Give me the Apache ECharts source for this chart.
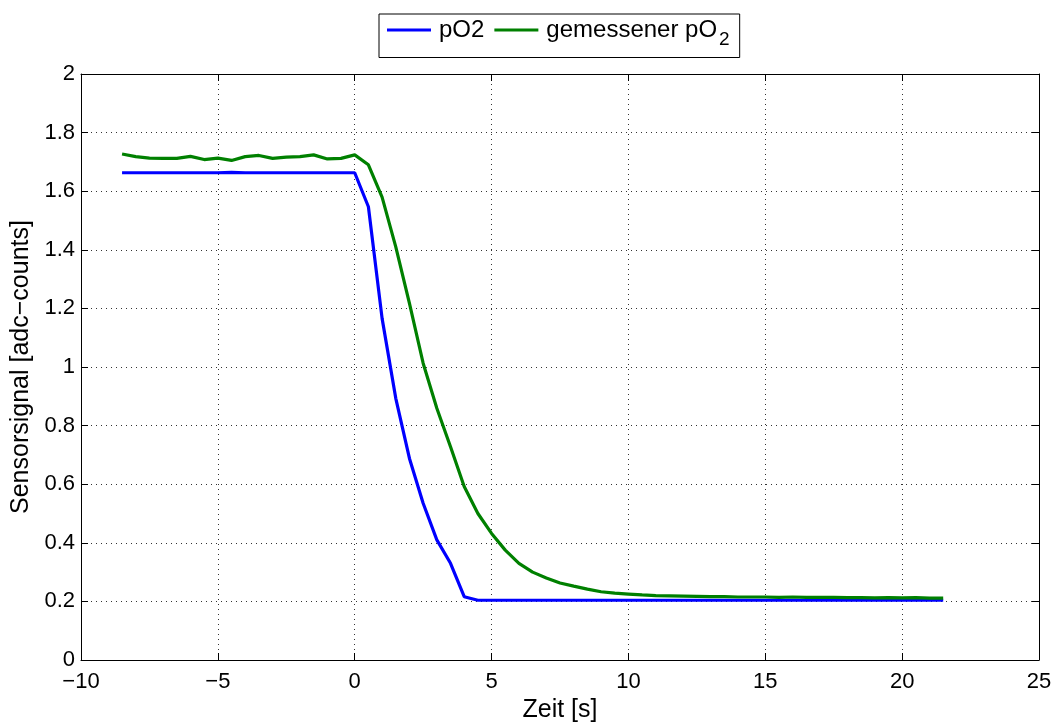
<!DOCTYPE html>
<html>
<head>
<meta charset="utf-8">
<script src="https://cdn.jsdelivr.net/npm/echarts@6/dist/echarts.min.js"></script>
<style>
  html, body { margin: 0; padding: 0; background: #fff; }
  #chart { width: 1057px; height: 722px; }
</style>
</head>
<body>
<div id="chart"></div>
<script>
// time axis in seconds
const time = [
  -8.5, -8, -7.5, -7, -6.5, -6, -5.5, -5, -4.5, -4, -3.5, -3, -2.5, -2, -1.5, -1, -0.5, 0,
  0.5, 1, 1.5, 2, 2.5, 3, 3.5, 4, 4.5, 5, 5.5, 6, 6.5, 7, 7.5, 8, 8.5, 9, 9.5, 10,
  10.5, 11, 11.5, 12, 12.5, 13, 13.5, 14, 14.5, 15, 15.5, 16, 16.5, 17, 17.5, 18,
  18.5, 19, 19.5, 20, 20.5, 21, 21.5
]

const pO2 = [
  1.663, 1.663, 1.663, 1.663, 1.663, 1.663, 1.663, 1.663, 1.664, 1.663, 1.663, 1.663,
  1.663, 1.663, 1.663, 1.663, 1.663, 1.663,
  1.547, 1.166, 0.893, 0.688, 0.535, 0.41, 0.33, 0.216, 0.204,
  0.204, 0.204, 0.204, 0.204, 0.204, 0.204, 0.204, 0.204, 0.204, 0.204, 0.204,
  0.204, 0.204, 0.204, 0.204, 0.204, 0.204, 0.204, 0.204, 0.204, 0.204, 0.204,
  0.204, 0.204, 0.204, 0.204, 0.204, 0.204, 0.204, 0.204, 0.204, 0.204, 0.204, 0.204
]

const measured = [
  1.727, 1.718, 1.713, 1.712, 1.712, 1.719, 1.708, 1.713, 1.705, 1.718, 1.722, 1.712,
  1.716, 1.718, 1.724, 1.710, 1.712, 1.724,
  1.69, 1.58, 1.41, 1.217, 1.013, 0.859, 0.728, 0.592, 0.50, 0.432,
  0.375, 0.33, 0.30, 0.28, 0.263, 0.252, 0.242, 0.233, 0.228, 0.225,
  0.222, 0.220, 0.219, 0.218, 0.217, 0.216, 0.216, 0.215, 0.215, 0.215,
  0.214, 0.215, 0.214, 0.214, 0.214, 0.213, 0.213, 0.212, 0.213, 0.212, 0.213, 0.211, 0.211
]

const seriesNames = ['pO2', 'gemessener pO2']

const font = '"Liberation Sans", Arial, Helvetica, sans-serif'

const chart = echarts.init(document.getElementById('chart'))

const gridLine = {
  show: true,
  lineStyle: { color: '#333', type: [1, 4], width: 1 }
}

// top and right axes only close the box (MATLAB style)
const boxAxis = {
  type: 'value',
  axisLine: { show: true, onZero: false, lineStyle: { color: '#000', width: 1 } },
  axisTick: { show: true, inside: true, length: 7, lineStyle: { color: '#000' } },
  axisLabel: { show: false },
  splitLine: { show: false }
}

const option = {
  animation: false,
  textStyle: { fontFamily: font },
  legend: {
    top: 14,
    left: 379,
    data: seriesNames,
    backgroundColor: '#fff',
    borderColor: '#000',
    borderWidth: 1,
    padding: [4, 10, 8, 8],
    itemGap: 10,
    itemWidth: 44,
    itemHeight: 3,
    icon: 'rect',
    formatter: (name) => name === 'gemessener pO2' ? '{a|gemessener pO}{s|2}' : '{a|' + name + '}',
    textStyle: {
      color: '#000',
      fontFamily: font,
      rich: {
        a: { fontSize: 24, fontFamily: font, color: '#000', padding: [0, 0, 0, 3] },
        s: { fontSize: 19, fontFamily: font, color: '#000', padding: [20, 0, 0, 2] }
      }
    }
  },
  grid: { left: 81, right: 18, top: 74, bottom: 62, outerBoundsMode: 'none' },
  xAxis: [
    {
      type: 'value',
      min: -10,
      max: 25,
      interval: 5,
      name: 'Zeit [s]',
      nameLocation: 'middle',
      nameGap: 34,
      nameTextStyle: { fontSize: 25, color: '#000', fontFamily: font },
      axisLine: { show: true, onZero: false, lineStyle: { color: '#000', width: 1 } },
      axisTick: { show: true, inside: true, length: 7, lineStyle: { color: '#000' } },
      axisLabel: {
        fontSize: 22,
        color: '#000',
        margin: 11,
        fontFamily: font,
        formatter: (v) => String(v).replace('-', '\u2212')
      },
      splitLine: gridLine
    },
    Object.assign({}, boxAxis, { position: 'top', min: -10, max: 25, interval: 5 })
  ],
  yAxis: [
    {
      type: 'value',
      min: 0,
      max: 2,
      interval: 0.2,
      name: 'Sensorsignal [adc\u2212counts]',
      nameLocation: 'middle',
      nameGap: 47,
      nameTextStyle: { fontSize: 25, color: '#000', fontFamily: font },
      axisLine: { show: true, onZero: false, lineStyle: { color: '#000', width: 1 } },
      axisTick: { show: true, inside: true, length: 7, lineStyle: { color: '#000' } },
      axisLabel: { fontSize: 22, color: '#000', margin: 6, fontFamily: font },
      splitLine: gridLine
    },
    Object.assign({}, boxAxis, { position: 'right', min: 0, max: 2, interval: 0.2 })
  ],
  series: [
    {
      name: seriesNames[0],
      type: 'line',
      showSymbol: false,
      color: '#0000ff',
      lineStyle: { width: 3.2, color: '#0000ff' },
      data: time.map((t, i) => [t, pO2[i]])
    },
    {
      name: seriesNames[1],
      type: 'line',
      showSymbol: false,
      color: '#008000',
      lineStyle: { width: 3.2, color: '#008000' },
      data: time.map((t, i) => [t, measured[i]])
    }
  ]
}

chart.setOption(option)
</script>
</body>
</html>
